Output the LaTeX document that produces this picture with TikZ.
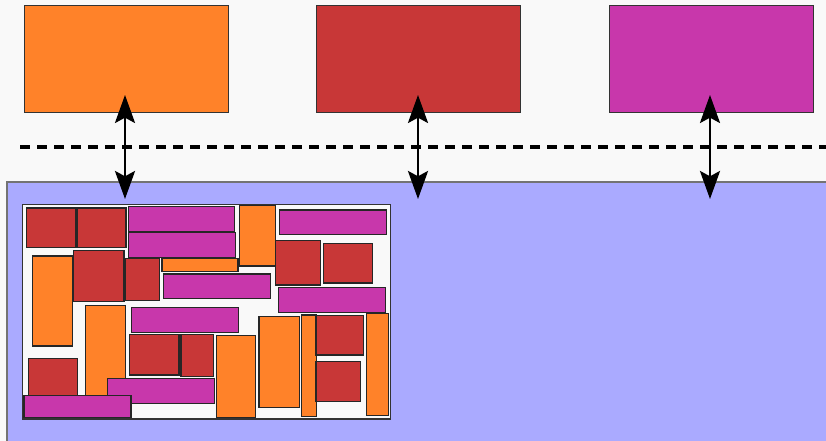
\documentclass[tikz,border=0pt]{standalone}
\usepackage{tikz}
\usetikzlibrary{positioning,
                arrows.meta}
\definecolor{binorange}{HTML}{FF8229}
\definecolor{binred}{HTML}{C83737}
\definecolor{binpink}{HTML}{C837AB}
\definecolor{stripblue}{HTML}{AAAAFF}
\definecolor{paper}{HTML}{F9F9F9}

\begin{document}
\begin{tikzpicture}[x=0.75pt,y=-0.75pt]

\tikzset{
topbin/.style={
draw=black!80,
line width=0.6pt,
minimum width=153pt,
minimum height=80.25pt,
inner sep=0pt
},
piece/.style={
draw=black!85,
line width=0.9pt
},
link/.style={
line width=2pt,
{Stealth[length=21pt,width=15pt,inset=4pt]}-{Stealth[length=21pt,width=15pt,inset=4pt]}
},
divider/.style={
line width=3pt,
dash pattern=on 7.5pt off 5.25pt
}
}

\useasboundingbox (0,0) rectangle (826,441);
\fill[paper] (0,0) rectangle (826,441);

%--------------------------------------------------
% LOWER STRIP
%--------------------------------------------------

\fill[stripblue] (7,182) rectangle (827,442);
\draw[draw=black!55,line width=0.9pt] (7,442) -- (7,182) -- (827,182);

%--------------------------------------------------
% TOP BINS
%--------------------------------------------------

\node[topbin,fill=binorange] (orangebin) at (126,58.5) {};
\node[topbin,fill=binred] (redbin) at (418,58.5) {};
\node[topbin,fill=binpink] (pinkbin) at (711,58.5) {};

\draw[divider] (20,147) -- (826,147);

%--------------------------------------------------
% ARROWS
%--------------------------------------------------

\coordinate (orangetop) at (125,95);
\coordinate (orangelow) at (125,199);
\coordinate (redtop) at (418,95);
\coordinate (redlow) at (418,199);
\coordinate (pinktop) at (710,95);
\coordinate (pinklow) at (710,199);

\draw[link] (orangetop) -- (orangelow);
\draw[link] (redtop) -- (redlow);
\draw[link] (pinktop) -- (pinklow);

%--------------------------------------------------
% PACKED BOX
%--------------------------------------------------

\draw[fill=paper,draw=black!80,line width=1.1pt] (22.7,204.7) rectangle (390.7,419);

\draw[piece,fill=binred] (26.7,208) rectangle (76,247.3);
\draw[piece,fill=binred] (77.3,208) rectangle (126,247.3);
\draw[piece,fill=binpink] (128.3,206.7) rectangle (234.7,231.3);
\draw[piece,fill=binpink] (128.3,232.7) rectangle (235.3,257.7);
\draw[piece,fill=binorange] (239.3,205.3) rectangle (275.3,266);
\draw[piece,fill=binpink] (279.3,210) rectangle (386.7,234.7);
\draw[piece,fill=binorange] (32.3,256) rectangle (72.3,346);
\draw[piece,fill=binred] (73.3,250.7) rectangle (124,301.3);
\draw[piece,fill=binred] (125.3,258.7) rectangle (159.3,300.3);
\draw[piece,fill=binorange] (162,258.7) rectangle (238,271.3);
\draw[piece,fill=binred] (275.7,240.7) rectangle (320.7,285);
\draw[piece,fill=binred] (323.3,243.3) rectangle (372.3,283);
\draw[piece,fill=binpink] (163.3,274) rectangle (270.3,298.7);
\draw[piece,fill=binpink] (278.7,287.3) rectangle (385.7,312.7);
\draw[piece,fill=binorange] (85.7,305.3) rectangle (125.7,395.3);
\draw[piece,fill=binpink] (131.7,307.7) rectangle (238.3,332.7);
\draw[piece,fill=binred] (129.3,334.7) rectangle (179,375);
\draw[piece,fill=binred] (181,334.7) rectangle (213.7,376.7);
\draw[piece,fill=binorange] (216.3,335.7) rectangle (255.7,417.3);
\draw[piece,fill=binorange] (259,316.7) rectangle (299.3,407.3);
\draw[piece,fill=binorange] (301.3,315) rectangle (316.3,416.7);
\draw[piece,fill=binred] (316,315.7) rectangle (363.7,355);
\draw[piece,fill=binred] (316,361.7) rectangle (360.3,401.3);
\draw[piece,fill=binorange] (366.3,313.3) rectangle (388.7,415.7);
\draw[piece,fill=binred] (28.7,358.3) rectangle (77.7,396.7);
\draw[piece,fill=binpink] (107.7,378.3) rectangle (214.7,403.3);
\draw[piece,fill=binpink] (24,395.7) rectangle (131,417.7);

\end{tikzpicture}
\end{document}
